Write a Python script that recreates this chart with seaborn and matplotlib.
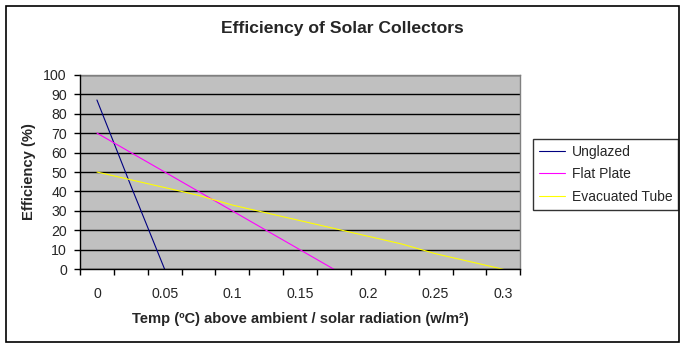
import matplotlib
matplotlib.use("Agg")
import matplotlib.pyplot as plt
import seaborn as sns
import pandas as pd
from matplotlib.patches import Rectangle
from matplotlib.lines import Line2D

# Data
unglazed_x = [0.0, 0.025, 0.05]
unglazed_y = [87, 43, 0]
flat_x = [0.0, 0.025, 0.05, 0.075, 0.1, 0.125, 0.15, 0.175]
flat_y = [70, 60, 50, 40, 30, 20, 10, 0]
evac_x = [0.0, 0.025, 0.05, 0.075, 0.1, 0.125, 0.15, 0.175, 0.2, 0.225, 0.25, 0.275, 0.3]
evac_y = [50, 46, 42, 38, 33, 29, 25, 21, 17, 13, 8, 4, 0]
series_names = ["Unglazed", "Flat Plate", "Evacuated Tube"]
series_colors = ["#000080", "#FF00FF", "#FFFF00"]
x_tick_values = [0, 0.05, 0.1, 0.15, 0.2, 0.25, 0.3]
x_tick_labels = ["0", "0.05", "0.1", "0.15", "0.2", "0.25", "0.3"]
y_ticks = [0, 10, 20, 30, 40, 50, 60, 70, 80, 90, 100]

df = pd.concat([
    pd.DataFrame({"x": unglazed_x, "y": unglazed_y, "s": series_names[0]}),
    pd.DataFrame({"x": flat_x, "y": flat_y, "s": series_names[1]}),
    pd.DataFrame({"x": evac_x, "y": evac_y, "s": series_names[2]}),
])

sns.set_style("white")
plt.rcParams["font.family"] = ["Liberation Sans", "DejaVu Sans"]

W, H = 685, 348
fig = plt.figure(figsize=(W / 100, H / 100), dpi=100)
ax = fig.add_axes([80 / W, 1 - 269.3 / H, (520.3 - 80) / W, (269.3 - 74.7) / H])
ax.set_facecolor("#C0C0C0")

sns.lineplot(data=df, x="x", y="y", hue="s", palette=dict(zip(series_names, series_colors)),
             ax=ax, linewidth=0.8, legend=False, estimator=None, sort=False)

ax.set_xlim(-0.0125, 0.3125)
ax.set_ylim(0, 100)
ax.set_yticks(y_ticks)
ax.set_yticklabels([str(v) for v in y_ticks])
ax.set_xticks(x_tick_values)
ax.set_xticklabels(x_tick_labels)
ax.set_xticks([-0.0125 + 0.025 * k for k in range(14)], minor=True)
ax.tick_params(axis="x", which="major", length=0, pad=13, labelsize=10.2)
ax.tick_params(axis="x", which="minor", length=4, width=1, color="black", direction="out", bottom=True)
ax.tick_params(axis="y", which="major", length=4, width=1, color="black", direction="out", left=True,
               pad=5.5, labelsize=10.2)

ax.yaxis.grid(True, color="black", linewidth=1)
ax.xaxis.grid(False)
ax.set_axisbelow(True)

for side in ["top", "right"]:
    ax.spines[side].set_visible(True)
    ax.spines[side].set_color("#808080")
    ax.spines[side].set_linewidth(1)
for side in ["left", "bottom"]:
    ax.spines[side].set_color("black")
    ax.spines[side].set_linewidth(1)
    ax.spines[side].set_zorder(5)

ax.set_xlabel("Temp (ºC) above ambient / solar radiation (w/m²)", fontsize=10.6, fontweight="bold", labelpad=8)
ax.set_ylabel("Efficiency (%)", fontsize=10.6, fontweight="bold", labelpad=5)

fig.text(342 / W, 1 - 28.5 / H, "Efficiency of Solar Collectors", ha="center", va="center",
         fontsize=12.6, fontweight="bold")

# Legend
handles = [Line2D([], [], color=c, linewidth=0.8) for c in series_colors]
leg = fig.legend(handles, series_names, loc="upper left",
                 bbox_to_anchor=(532.7 / W, 1 - 138.7 / H), fontsize=10,
                 frameon=True, fancybox=False, handlelength=1.9, handletextpad=0.45,
                 borderpad=0.45, labelspacing=0.6, borderaxespad=0)
leg.get_frame().set_edgecolor("black")
leg.get_frame().set_linewidth(1)

# Outer chart border
fig.patches.append(Rectangle((6.3 / W, 1 - 342 / H), (679 - 6.3) / W, (342 - 6.3) / H,
                             transform=fig.transFigure, fill=False, edgecolor="black", linewidth=1.2))

fig.savefig("out.png", dpi=100)
